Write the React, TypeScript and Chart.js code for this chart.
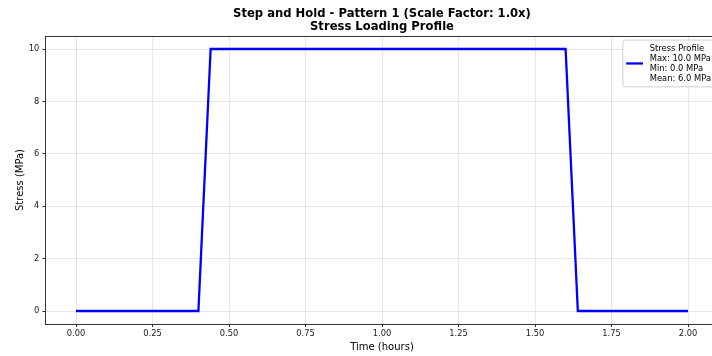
import React, { useEffect, useRef } from 'react';
import { Chart, registerables } from 'chart.js';

Chart.register(...registerables);

const timeHours = [0, 0.4, 0.44, 1.6, 1.64, 2.0];
const stressMPa = [0, 0, 10, 10, 0, 0];
const xTicks = [0, 0.25, 0.5, 0.75, 1.0, 1.25, 1.5, 1.75, 2.0];
const yTicks = [0, 2, 4, 6, 8, 10];
const titleLines = ['Step and Hold - Pattern 1 (Scale Factor: 1.0x)', 'Stress Loading Profile'];
const legendLines = ['Stress Profile', 'Max: 10.0 MPa', 'Min: 0.0 MPa', 'Mean: 6.0 MPa'];
const xTitle = 'Time (hours)';
const yTitle = 'Stress (MPa)';

const FONT = "'DejaVu Sans', sans-serif";
const LINE_COLOR = '#0000ff';

const framePlugin = {
  id: 'frameAndLegend',
  afterDraw(chart: any) {
    const { ctx, chartArea } = chart;
    const l = Math.round(chartArea.left) + 0.5;
    const t = Math.round(chartArea.top) + 0.5;
    const r = Math.round(chartArea.right) + 0.5;
    const b = Math.round(chartArea.bottom) + 0.5;
    ctx.save();
    ctx.strokeStyle = '#333';
    ctx.lineWidth = 1;
    ctx.strokeRect(l, t, r - l, b - t);

    // legend
    const f = 8.4;
    const lineH = 10;
    ctx.font = `${f}px ${FONT}`;
    let maxW = 0;
    legendLines.forEach((s) => { maxW = Math.max(maxW, ctx.measureText(s).width); });
    const pad = 0.4 * f;
    const handle = 2 * f;
    const gap = 0.8 * f;
    const axPad = 0.5 * f;
    const boxW = pad + handle + gap + maxW + pad;
    const boxH = pad * 2 + lineH * legendLines.length;
    const boxR = chartArea.right - axPad;
    const boxL = boxR - boxW;
    const boxT = chartArea.top + axPad;
    const rad = 2.5;
    ctx.beginPath();
    ctx.moveTo(boxL + rad, boxT);
    ctx.lineTo(boxL + boxW - rad, boxT);
    ctx.arcTo(boxL + boxW, boxT, boxL + boxW, boxT + rad, rad);
    ctx.lineTo(boxL + boxW, boxT + boxH - rad);
    ctx.arcTo(boxL + boxW, boxT + boxH, boxL + boxW - rad, boxT + boxH, rad);
    ctx.lineTo(boxL + rad, boxT + boxH);
    ctx.arcTo(boxL, boxT + boxH, boxL, boxT + boxH - rad, rad);
    ctx.lineTo(boxL, boxT + rad);
    ctx.arcTo(boxL, boxT, boxL + rad, boxT, rad);
    ctx.closePath();
    ctx.fillStyle = 'rgba(255,255,255,0.8)';
    ctx.fill();
    ctx.strokeStyle = '#d0d0d0';
    ctx.lineWidth = 1;
    ctx.stroke();

    const textTop = boxT + pad;
    const midY = textTop + (lineH * legendLines.length) / 2;
    ctx.beginPath();
    ctx.moveTo(boxL + pad, midY);
    ctx.lineTo(boxL + pad + handle, midY);
    ctx.strokeStyle = LINE_COLOR;
    ctx.lineWidth = 2.3;
    ctx.stroke();

    ctx.fillStyle = '#000';
    ctx.textAlign = 'left';
    ctx.textBaseline = 'middle';
    legendLines.forEach((s, i) => {
      ctx.fillText(s, boxL + pad + handle + gap, textTop + lineH * i + lineH / 2);
    });
    ctx.restore();
  },
};

export default function App() {
  const ref = useRef<HTMLCanvasElement | null>(null);
  useEffect(() => {
    document.body.style.margin = '0';
    document.body.style.overflow = 'hidden';
    const canvas = ref.current;
    if (!canvas) return;
    const chart = new Chart(canvas, {
      type: 'line',
      data: {
        datasets: [
          {
            label: legendLines[0],
            data: timeHours.map((x, i) => ({ x, y: stressMPa[i] })),
            borderColor: LINE_COLOR,
            backgroundColor: LINE_COLOR,
            borderWidth: 2.3,
            pointRadius: 0,
            tension: 0,
            fill: false,
          },
        ],
      },
      options: {
        responsive: false,
        animation: false,
        devicePixelRatio: 1,
        layout: { padding: { left: 0, right: 11.4, top: 0, bottom: 0 } },
        plugins: {
          legend: { display: false },
          tooltip: { enabled: false },
          title: {
            display: true,
            text: titleLines,
            fullSize: false,
            color: '#000',
            font: { family: FONT, size: 11.6, weight: 'bold', lineHeight: 13 / 11.6 },
            padding: { top: 7.5, bottom: 2.4 },
          },
        },
        scales: {
          x: {
            type: 'linear',
            min: -0.1,
            max: 2.1,
            afterBuildTicks: (s: any) => { s.ticks = xTicks.map((v) => ({ value: v })); },
            afterFit: (s: any) => { s.height = 31.9; },
            grid: { color: 'rgba(176,176,176,0.3)', lineWidth: 1, tickLength: 3, tickColor: '#333', drawTicks: true },
            border: { display: false },
            ticks: {
              color: '#222',
              font: { family: FONT, size: 8.3 },
              padding: 2,
              maxRotation: 0,
              autoSkip: false,
              callback: (v: any) => Number(v).toFixed(2),
            },
            title: {
              display: true,
              text: xTitle,
              color: '#000',
              font: { family: FONT, size: 10, lineHeight: 1.2 },
              padding: { top: 0, bottom: 3 },
            },
          },
          y: {
            type: 'linear',
            min: -0.5,
            max: 10.5,
            afterBuildTicks: (s: any) => { s.ticks = yTicks.map((v) => ({ value: v })); },
            afterFit: (s: any) => { s.width = 45.4; },
            grid: { color: 'rgba(176,176,176,0.3)', lineWidth: 1, tickLength: 3, tickColor: '#333', drawTicks: true },
            border: { display: false },
            ticks: {
              color: '#222',
              font: { family: FONT, size: 8.3 },
              padding: 3,
              autoSkip: false,
              callback: (v: any) => String(Math.round(Number(v))),
            },
            title: {
              display: true,
              text: yTitle,
              color: '#000',
              font: { family: FONT, size: 10, lineHeight: 1.2 },
              padding: { top: 14, bottom: 0 },
            },
          },
        },
      },
      plugins: [framePlugin],
    });
    return () => chart.destroy();
  }, []);
  return (
    <div style={{ width: 712, height: 356, overflow: 'hidden', position: 'relative', background: '#fff' }}>
      <canvas ref={ref} width={730} height={356} style={{ display: 'block', width: 730, height: 356 }} />
    </div>
  );
}
